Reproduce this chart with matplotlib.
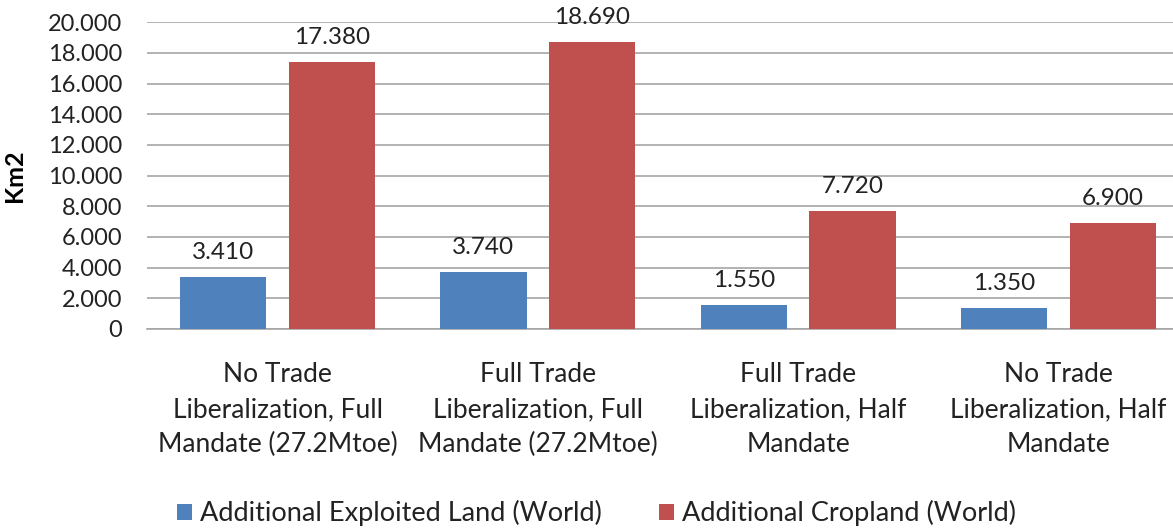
import matplotlib.pyplot as plt
import numpy as np
from matplotlib.ticker import FuncFormatter

categories = [
    "No Trade\nLiberalization, Full\nMandate (27.2Mtoe)",
    "Full Trade\nLiberalization, Full\nMandate (27.2Mtoe)",
    "Full Trade\nLiberalization, Half\nMandate",
    "No Trade\nLiberalization, Half\nMandate",
]
exploited_land = [3410, 3740, 1550, 1350]
cropland = [17380, 18690, 7720, 6900]
series_names = ["Additional Exploited Land (World)", "Additional Cropland (World)"]


def dot_thousands(v, pos=None):
    return f"{int(round(v)):,}".replace(",", ".")


def main():
    plt.rcParams['font.family'] = ['Lato', 'DejaVu Sans']

    fig = plt.figure(figsize=(11.73, 5.28), dpi=100)
    # plot area runs past the right edge, like the cropped original
    ax = fig.add_axes([0.1256, 0.377, 0.8878, 0.581])

    x = np.arange(len(categories))
    width = 0.332
    offset = 0.209
    blue = ax.bar(x - offset, exploited_land, width, color='#4F81BD',
                  label=series_names[0], zorder=3)
    red = ax.bar(x + offset, cropland, width, color='#C0504D',
                 label=series_names[1], zorder=3)

    # Value labels above the bars
    for bars in (blue, red):
        for b in bars:
            ax.annotate(dot_thousands(b.get_height()),
                        (b.get_x() + b.get_width() / 2, b.get_height()),
                        xytext=(0, 10), textcoords='offset points',
                        ha='center', va='bottom', fontsize=17.5,
                        color='#222222')

    ax.set_xlim(-0.5, len(categories) - 0.5)
    ax.set_ylim(0, 20000)
    ax.set_yticks(range(0, 20001, 2000))
    ax.yaxis.set_major_formatter(FuncFormatter(dot_thousands))
    ax.set_xticks(x)
    ax.set_xticklabels(categories, fontsize=19, linespacing=1.5,
                       color='#222222')
    ax.tick_params(axis='y', length=0, labelsize=17, pad=18,
                   labelcolor='#222222')
    ax.tick_params(axis='x', length=0, pad=24)

    ax.grid(axis='y', color='#A6A6A6', linewidth=1.2, zorder=0)
    for side in ('top', 'right', 'left'):
        ax.spines[side].set_visible(False)
    ax.spines['bottom'].set_color('#A6A6A6')
    ax.spines['bottom'].set_linewidth(1.2)

    ax.set_ylabel('Km2', fontsize=18, fontweight='bold', labelpad=16)

    fig.legend(loc='lower center', bbox_to_anchor=(0.5085, -0.043), ncol=2,
               frameon=False, fontsize=19.5, handlelength=0.55,
               handleheight=0.55, handletextpad=0.3, columnspacing=2.1,
               labelcolor='#222222')

    fig.savefig('out.png', dpi=100)


if __name__ == "__main__":
    main()
